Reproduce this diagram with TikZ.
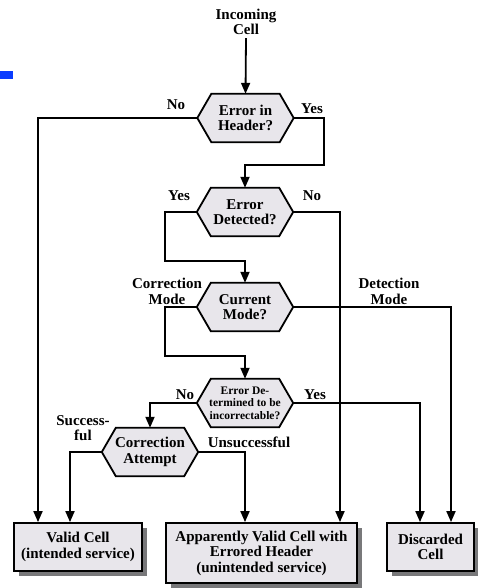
\documentclass[tikz,border=0pt]{standalone}
\usepackage{fontspec}
\setmainfont{Liberation Serif}
\usetikzlibrary{arrows.meta,calc,shadows,backgrounds}

\definecolor{cellfill}{RGB}{232,230,235}
\definecolor{shadowgray}{RGB}{120,120,122}
\definecolor{barblue}{RGB}{10,60,255}

\newcommand\bigtxt{\fontsize{15pt}{15.5pt}\selectfont\bfseries}
\newcommand\smalltxt{\fontsize{11.5pt}{12.5pt}\selectfont\bfseries}

% hexagonal decision outline around a node, with its shadow
\newcommand\hexoutline[1]{%
  \fill[shadowgray,xshift=5pt,yshift=-5pt]
    (#1.west) -- ($(#1.north west)+(14,0)$) -- ($(#1.north east)+(-14,0)$)
    -- (#1.east) -- ($(#1.south east)+(-14,0)$) -- ($(#1.south west)+(14,0)$) -- cycle;
  \filldraw[fill=cellfill,line width=1.8pt,line join=miter]
    (#1.west) -- ($(#1.north west)+(14,0)$) -- ($(#1.north east)+(-14,0)$)
    -- (#1.east) -- ($(#1.south east)+(-14,0)$) -- ($(#1.south west)+(14,0)$) -- cycle;
}

\begin{document}
\begin{tikzpicture}[x=1pt,y=-1pt,
  decision/.style={minimum width=96pt,minimum height=48pt,inner sep=0pt,align=center,font=\bigtxt},
  outcome/.style={draw,line width=1.8pt,fill=cellfill,inner sep=0pt,align=center,font=\bigtxt,
    drop shadow={shadow xshift=5pt,shadow yshift=-5pt,opacity=1,fill=shadowgray}},
  lbl/.style={font=\bigtxt,align=center,inner sep=0pt},
  arr/.style={line width=1.8pt,-{Triangle[length=11pt,width=9pt]}}]

\useasboundingbox (0,0) rectangle (478,588);
\fill[barblue] (0,71) rectangle (13,79);

% start
\node[lbl] (in) at (246,22) {Incoming\\Cell};

% decisions
\node[decision] (h1) at (245.5,118) {Error in\\Header?};
\node[decision] (h2) at (245,212) {Error\\Detected?};
\node[decision] (h3) at (245,307) {Current\\Mode?};
\node[decision,font=\smalltxt] (h4) at (245,403) {Error De-\\termined to be\\incorrectable?};
\node[decision] (h5) at (150,452) {Correction\\Attempt};

\begin{scope}[on background layer]
  \hexoutline{h1}
  \hexoutline{h2}
  \hexoutline{h3}
  \hexoutline{h4}
  \hexoutline{h5}
\end{scope}

% results
\node[outcome,minimum width=128pt,minimum height=48pt] (valid) at (78,547)
  {Valid Cell\\(intended service)};
\node[outcome,minimum width=191pt,minimum height=60pt] (appar) at (261.5,553)
  {Apparently Valid Cell with\\Errored Header\\(unintended service)};
\node[outcome,minimum width=87pt,minimum height=48pt] (disc) at (430.5,547)
  {Discarded\\Cell};

% routing columns and bends
\coordinate (colA) at (38,0);
\coordinate (colB) at (70,0);
\coordinate (colC) at (340,0);
\coordinate (colD) at (420,0);
\coordinate (colE) at (451,0);
\coordinate (colF) at (245,0);
\coordinate (b1) at (324,165);
\coordinate (b2) at (165,261);
\coordinate (b3) at (165,356);

% connectors
\draw[arr] (in.south) ++(0,3) -- (h1.north);
\draw[arr] (h1.west) -| (colA |- valid.north);
\draw[arr] (h1.east) -| (b1) -| (h2.north);
\draw[arr] (h2.west) -| (b2) -| (h3.north);
\draw[arr] (h2.east) -| (colC |- appar.north);
\draw[arr] (h3.west) -| (b3) -| (h4.north);
\draw[arr] (h3.east) -| (colE |- disc.north);
\draw[arr] (h4.west) -| (h5.north);
\draw[arr] (h4.east) -| (colD |- disc.north);
\draw[arr] (h5.west) -| (colB |- valid.north);
\draw[arr] (h5.east) -| (colF |- appar.north);

% branch labels
\node[lbl] at (176,105) {No};
\node[lbl] at (312,109) {Yes};
\node[lbl] at (179,196) {Yes};
\node[lbl] at (312,196) {No};
\node[lbl] at (167,291.5) {Correction\\Mode};
\node[lbl] at (389,291.5) {Detection\\Mode};
\node[lbl] at (185,395) {No};
\node[lbl] at (315,395) {Yes};
\node[lbl] at (83,428) {Success-\\ful};
\node[lbl] at (249,442) {Unsuccessful};
\end{tikzpicture}
\end{document}
